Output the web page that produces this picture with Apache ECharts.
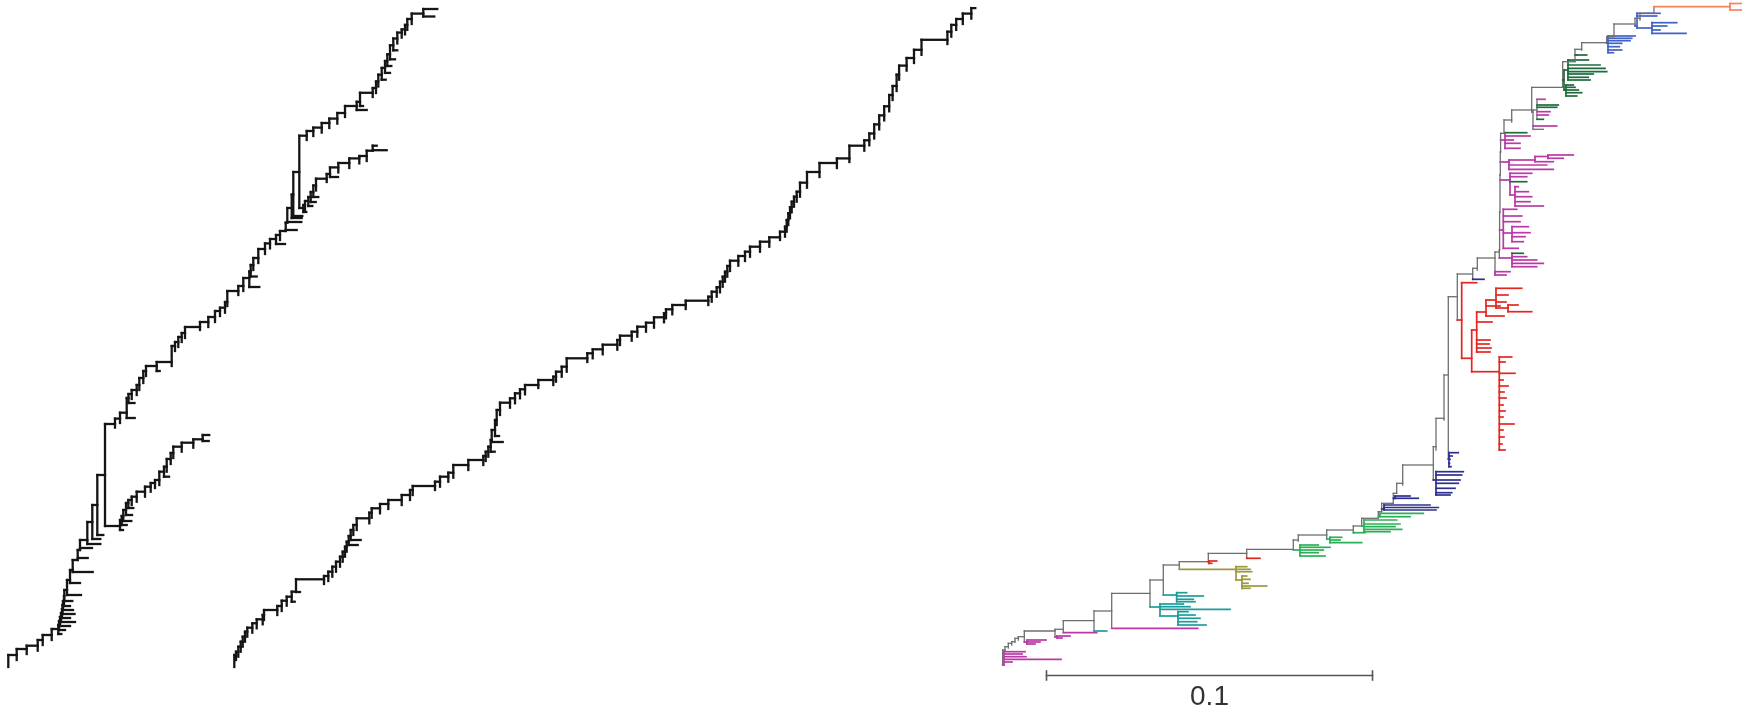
<!DOCTYPE html>
<html><head><meta charset="utf-8">
<script src="https://cdn.jsdelivr.net/npm/echarts@6/dist/echarts.min.js"></script>
<style>html,body{margin:0;padding:0;background:#fff}#c{width:1742px;height:709px}</style>
</head><body><div id="c"></div>
<script>
// ---------- colours ----------
const C_BLACK='#151515', C_GREY='#6e6e6e', C_MAG='#b93aa5', C_TEAL='#1e9c9c', C_OLIVE='#9c9a3c',
      C_RED='#e52620', C_GREEN='#2bb057', C_NAVY='#2d2f8f', C_DGREEN='#1d6a3c', C_BLUE='#4262c8',
      C_ORANGE='#f4845c', C_BAR='#555555';

// ---------- data: ladder trees, node = [x(branch length), yTop(taxon pos), yBottom, leafLength|clade] ----------
const TREE_A_MAIN = [
 [8.3,655,667],[16.7,649],[26.7,645.7],[37.7,640],[42.7,635],[51.7,629],
 [58.3,625,null,3],[59,621,null,6],[60,617,null,10],[61,613,null,14],[62,609,null,8],[62.5,605,null,12],
 [63,601,null,10],[64,596,null,6],[64.3,590,null,8],[67,580,null,14],
 [70,570,583,10],[72.7,560,572,20],[77.7,550,558,10],[80,540,548,12],[87.3,522,544,13],
 [92.3,505,539,8],[97.3,475,535,6],[105,424,526,0],
 [115,418.6,427.6],[120,412.7,423],[126.7,398,418,8],[128.5,394,null,6],[131.7,390],[136.7,385],
 [139.3,378],[143.3,371],[146,366],[156.7,362,371,3],[171.7,346,366],[175,342],[178.3,337],
 [181.7,333],[185,327],[200,322,330],[208.3,317],[215,311],[220,307.7],[225,302],[227.3,291,306],
 [238.3,286,295],[243.3,278],[249.3,271.5,287,10],[250.7,265,null,6],[253.3,258],[258.3,249],
 [265,243.4],[270,239],[276,235,null,9],[280,231],[285.7,222.6,230,11],[287.3,208,222,14],
 [291.7,194.6,218,10],[293.3,172,216,9],[299.3,135.7,208,0],
 [306.7,131,140],[313.3,127.6],[321.7,123],[329.3,118.6],[337.3,113],[345,106,117],
 [356.7,101.8,110,10],[360,92.8,106,3],[372.7,88,97],[376,81.5],[378.3,74.7],[381.7,67.9,null,4],
 [385,61,null,5],[387.3,54.3,null,4],[390,45.3,null,5],[393.3,38.5,null,4],[397.3,32.6],
 [401.7,29.4],[405,24.9],[407.3,19],[411.7,13.6],[423.3,9,16.5,11]
];
const TREE_A_MAIN_TIP = 14;
const TREE_A_SIDE1_START = [105,526];
const TREE_A_SIDE1 = [
 [120,520,530,3],[121.7,516,null,5],[123.3,510,null,8],[126,503,null,6],[128.3,500,null,5],
 [131.7,496.7],[136.7,491.7],[145,486.7],[150.7,483],[155,480],[159.3,471.7],[164,466.7,null,5],
 [166.7,459],[170.7,453],[173.3,446.7],[181.7,442.7],[193.3,439.3],[202.7,435,441,6]
];
const TREE_A_SIDE1_TIP = 6.5;
const TREE_A_SIDE2_START = [299.3,208];
const TREE_A_SIDE2 = [
 [303.3,205,212,3],[305,201],[308.3,197,null,4],[310.7,192,null,5],[313.3,185.5,null,5],[316,178.7],
 [326.7,174,182],[330,167.4,177,8],[338.3,163],[349.3,158.4],[359.3,156],[366.7,150.7],
 [372.7,145.7,150.2,14]
];
const TREE_A_SIDE2_TIP = 4;

const TREE_B = [
 [234.3,655,667],[236,651.7],[238.3,646.7],[240.7,641.7],[242.7,636.7],[245,631.7],[247.3,627.7],
 [252.3,623.3],[256.7,619.3],[262.7,615],[264,610],[277.3,606],[281.7,600.7],[286.7,596.7],
 [291.7,591.7,null,3],[296,579.3,592,4],[324,576,584],[328.3,571.7],[332.3,566.7],[336,561.7],
 [340,556.7],[342.7,551.7],[345,546.7],[346.7,541.7],[348.7,536,545,9],[350.7,530,540,10],
 [353.3,525],[356.7,518.3],[369.3,512.7],[371.7,508.3],[380,504],[388.3,500],[401.7,495],
 [410,490],[412.7,486],[435,481.7,490],[440,476.7],[448.3,472.7],[453.3,465],[468.3,460],
 [483.3,456,465],[485.7,451.7],[488.3,446.7],[490.7,440,null,4],[491.7,430,442,11],[495,420,436,4],
 [496.7,410],[500,402.7],[510,398.3],[515,393.3],[520,389.3],[525,385],[538.3,380,388],
 [553.3,376.7],[556,371.7],[561.7,366.7],[566.7,358.3],[587.3,353.3,362],[592.7,349.3],
 [602.7,344.7],[617.3,340],[620,335.7],[631.7,331.7],[637.3,326.7],[646,322.7],[654,317.3],
 [664,313.3],[666,309.3],[672.3,305],[685.7,300.7,309],[708.3,296.7,305],[711.7,291.7],
 [716.7,287.3],[720,281.7],[722.7,276.7],[725,271.7],[727.3,266],[730,260.7],[738.3,256],
 [745,251.7],[750,246.7],[760,241.7],[769.3,237.3],[780,231.7,240],[785,226.7],[786.7,220],
 [788.3,213.3],[790,207.3],[791.7,201.7],[794,196.7],[796.7,191.7],[800,182.7],[807,172],
 [819.5,163],[836.9,158.4],[849.4,145.7,162],[864.3,140.3],[869.3,133.5],[874.2,124.4],
 [879.2,115.4],[884.2,106.3],[889.2,95],[892.6,86],[896.6,74.7],[899.1,65.6],[906.6,58],
 [914,49.8],[921.5,39.8],[947.4,31.7,44],[951.3,24.9],[956.2,19],[962.8,13.6],[971.3,8.1]
];
const TREE_B_TIP = 4;

// ---------- data: coloured phylogram (backbone + clades) ----------
const TREE_C_SPINE = [
 [1002.7,650,665,'m0'],[1005,646.7,651],[1008.3,643.3,648],[1011.7,641.7,645],[1015,638.3,642],
 [1018.3,636.7,640],[1024.3,631,642,'m1'],[1055,629.3,637,'m2'],[1063.3,620.7,632.7,'m3'],
 [1094,611,631,'t0'],[1111.7,593.3,628.3,'m4'],[1150,580,607,'t1'],[1163.3,565,595,'t2'],
 [1179.3,561.7,569.3,'o0'],[1208.3,553.3,562,'r0'],[1246.7,549.3,558.3,'r1'],
 [1293.3,540,550,'g0'],[1298.3,535,541],[1326.7,530,539,'g1'],[1353.3,526,532.7,'g2'],
 [1361.7,518.3,526,'g3'],[1378.3,511.7,516,'g4'],[1381.7,503.3,509,'nv3'],[1393.3,493.3,498.3,'nv4'],
 [1396.7,483.3,493],[1402.7,465,485],[1433.3,446.7,480,'nv2'],[1436,418.3,450],[1444,375,420],
 [1448.3,296.7,459,'nv1'],[1457.3,274,320,'red'],[1472.7,268.3,279.3,'nv0'],[1477.3,258,270],
 [1495,252,273.3,'m5'],[1499.3,250,258,'m6'],[1499.6,212,230,'m7'],[1500,175,180,'m8'],
 [1500.3,152,162,'m9'],[1500.6,133.3,140,'m10'],[1504,120,133.3],[1511.7,110,122],
 [1531.7,87.3,112,'mx'],[1562.7,61.7,80,'dg0'],[1575,49.3,55,'dg1'],[1581.7,42.7,50],
 [1606.7,36.7,43,'b1'],[1614,24,36.7],[1635,18.3,26,'b0'],[1640,13.3,20],[1654,6.7,6.7,'or']
];
// clade = {x, colour, leaves [y, xEnd, colour?], subclades g:[{x, y(attach), ...}]}
const CL_M0 = {x:1004, c:C_MAG, l:[[651.7,1025],[654,1022],[656.7,1026],[659.3,1061],[662,1012]]};
const CL_M1 = {x:1027, c:C_MAG, l:[[640,1046],[642,1040],[644,1035]]};
const CL_M2 = {x:1057, c:C_MAG, l:[[636,1070],[638,1062]]};
const CL_M3 = {x:1063.3, c:C_MAG, l:[[632.7,1096.7]]};
const CL_T0 = {x:1094, c:C_TEAL, l:[[631,1106.7]]};
const CL_M4 = {x:1111.7, c:C_MAG, l:[[628.3,1197.7]]};
const CL_T1 = {x:1160, c:C_TEAL, l:[[604,1183.3],[606.7,1190],[609.3,1230]],
  g:[{x:1178, y:616, l:[[611.7,1188],[615,1195],[618.3,1200],[621.7,1196.7],[625,1206]]}]};
const CL_T2 = {x:1176.7, c:C_TEAL, l:[[592.7,1186.7],[596,1203.3],[599.3,1193.3],[601.7,1195]]};
const CL_O0 = {x:1236, c:C_OLIVE, l:[[566.7,1246.7],[569.3,1250],[571.7,1251.7]],
  g:[{x:1242, y:580, l:[[576,1246.7],[579.3,1250],[583.3,1248],[586,1266.7],[588.3,1250]]}]};
const CL_R0 = {x:1209, c:C_RED, l:[[561,1216.7],[563.3,1211.7]]};
const CL_R1 = {x:1247, c:C_RED, l:[[558.3,1260]]};
const CL_G0 = {x:1300, c:C_GREEN, l:[[545,1318.3],[547.3,1330],[550,1323.3],[552.7,1318.3],[556,1325]]};
const CL_G1 = {x:1330, c:C_GREEN, l:[[537.3,1341.7],[540,1340],[542.7,1361.7]]};
const CL_G2 = {x:1354, c:C_GREEN, l:[[532.7,1365]]};
const CL_G3 = {x:1364, c:C_GREEN, l:[[520,1396.7],[524,1400],[526.7,1395],[529.3,1401.7],[531.7,1390]]};
const CL_G4 = {x:1380, c:C_GREEN, l:[[513.3,1423.3],[516.7,1410]]};
const CL_NV3 = {x:1384, c:C_NAVY, l:[[505,1430],[507.5,1438.3],[510,1436]]};
const CL_NV4 = {x:1395, c:C_NAVY, l:[[496,1410],[498.3,1418.3]]};
const CL_NV2 = {x:1436, c:C_NAVY, l:[[471.7,1463.3],[475,1461.7],[480,1460],[483.3,1458.3],[488.3,1455],[492.7,1451.7],[495,1450]]};
const CL_NV1 = {x:1449, c:C_NAVY, l:[[452.7,1458.3],[456,1452],[459.3,1450],[463.3,1449.5],[466.7,1451]]};
const CL_RED = {x:1461.7, c:C_RED, l:[[282.7,1476.7]], g:[
  {x:1471.7, y:358.3, l:[], g:[
    {x:1476.7, y:330, l:[[340,1490],[344,1489],[348,1491],[352,1490],[322,1492]], g:[
      {x:1486, y:312, l:[[316,1504],[306,1500]], g:[
        {x:1496, y:300, l:[[288.3,1521.7],[295,1508],[302,1506]], g:[{x:1508, y:308, l:[[305,1518],[311.7,1531.7]]}]}
      ]}
    ]},
    {x:1499.3, y:371.7, l:[[357,1511.7],[362,1505],[373.3,1515],[380,1503],[386,1508],[392,1504],[398,1506],
      [405,1503],[411,1505],[417,1503],[424,1514],[430,1503],[437,1504],[444,1502],[450,1505]]}
  ]}
]};
const CL_NV0 = {x:1473, c:C_NAVY, l:[[279.3,1484]]};
const CL_M5 = {x:1495, c:C_MAG, l:[[271.7,1510],[275,1506]]};
const CL_M6 = {x:1512, c:C_MAG, l:[[253.3,1523.3,C_DGREEN],[256.7,1526.7],[260,1536.7],[263.3,1543.3],[266.7,1536.7]]};
const CL_M7 = {x:1503.3, c:C_MAG, l:[[209.3,1516.7],[216,1521.7],[221.7,1520],[248.3,1518.3]],
  g:[{x:1512, y:233, l:[[226.7,1528.3],[232.7,1530],[236.7,1525],[241.7,1523.3]]}]};
const CL_M8 = {x:1510, c:C_MAG, l:[[173.3,1531.7],[176.7,1526.7],[181.7,1526.7,C_DGREEN]],
  g:[{x:1515, y:195, l:[[186.7,1518.3],[191.7,1528.3],[196.7,1531.7],[201.7,1530],[206,1543.3]]}]};
const CL_M9 = {x:1509, c:C_MAG, l:[[165,1546.7],[169.3,1553.3]],
  g:[{x:1535, y:160, l:[[161.7,1553.3]], g:[{x:1548, y:156.5, l:[[155,1573.3],[158.3,1563.3]]}]}]};
const CL_M10 = {x:1505, c:C_MAG, l:[[132.7,1526.7,C_DGREEN],[136,1530],[140,1513.3],[143.3,1520],[148.3,1520]]};
const CL_MX = {x:1533, c:C_GREY, l:[[126,1556.7,C_MAG],[129.3,1543.3]],
  g:[{x:1537, y:110, l:[[99.3,1545,C_MAG],[105,1558.3,C_DGREEN],[107.3,1556.7,C_DGREEN],[111.7,1550,C_MAG],[115,1548.3,C_MAG],[119.3,1543.3,C_DGREEN]]}]};
const CL_DG0 = {x:1564, c:C_DGREEN, l:[], g:[
  {x:1568, y:70, l:[[60,1588.3],[65,1600],[68.3,1605],[71.7,1606.7],[74,1593.3],[77.3,1588.3],[80,1590]]},
  {x:1566, y:90, l:[[85,1573.3],[87.3,1575],[90,1578.3],[92.7,1581.7],[96,1576.7]]}]};
const CL_DG1 = {x:1577, c:C_DGREEN, l:[[55,1586.7]]};
const CL_B1 = {x:1608, c:C_BLUE, l:[[36,1635],[38.3,1631.7],[40.7,1630],[43.3,1621.7],[46.7,1619.3],[50,1621.7],[52.7,1613.3]]};
const CL_B0 = {x:1637, c:C_BLUE, l:[[13.3,1660],[16,1656.7]],
  g:[{x:1652, y:28, l:[[22.7,1676.7],[26,1666.7],[30,1660],[33.3,1686]]}]};
const CL_OR = {x:1730, c:C_ORANGE, l:[[3.5,1742],[10,1742]]};
const CLADES = {m0:CL_M0,m1:CL_M1,m2:CL_M2,m3:CL_M3,t0:CL_T0,m4:CL_M4,t1:CL_T1,t2:CL_T2,o0:CL_O0,
  r0:CL_R0,r1:CL_R1,g0:CL_G0,g1:CL_G1,g2:CL_G2,g3:CL_G3,g4:CL_G4,nv3:CL_NV3,nv4:CL_NV4,nv2:CL_NV2,
  nv1:CL_NV1,red:CL_RED,nv0:CL_NV0,m5:CL_M5,m6:CL_M6,m7:CL_M7,m8:CL_M8,m9:CL_M9,m10:CL_M10,mx:CL_MX,
  dg0:CL_DG0,dg1:CL_DG1,b1:CL_B1,b0:CL_B0,or:CL_OR};

// scale bar: 0.1 substitutions per site
const SCALE_BAR = [1046.5, 1372.5];
const SCALE_Y = 675.5;
const SCALE_LABEL = '0.1';

// ---------- build segments ----------
const STYLES = [];
const styleIdx = {};
function st(color, w) { const k = color + '|' + w; if (!(k in styleIdx)) { styleIdx[k] = STYLES.length; STYLES.push([color, w]); } return styleIdx[k]; }
const SEGS = [];
function add(x1, y1, x2, y2, s) { SEGS.push([x1, y1, x2, y2, s]); }
function colW(c) { return c === C_GREY ? 1.3 : 1.7; }

function drawClade(cl, px, py, col) {
  const c = cl.c || col;
  const ys = [py];
  cl.l.forEach(l => ys.push(l[0]));
  (cl.g || []).forEach(g => ys.push(g.y));
  if (cl.x > px) add(px, py, cl.x, py, st(c, colW(c)));
  add(cl.x, Math.min(...ys), cl.x, Math.max(...ys), st(c, colW(c)));
  cl.l.forEach(l => { const lc = l[2] || c; add(cl.x, l[0], l[1], l[0], st(lc, colW(lc))); });
  (cl.g || []).forEach(g => drawClade(g, cl.x, g.y, c));
}

function ladder(nodes, s, start, tip) {
  let prev = start ? start[1] : null;
  if (start) add(start[0], prev, nodes[0][0], prev, s);
  nodes.forEach((n, i) => {
    const x = n[0], top = n[1];
    const bot = (n[2] != null) ? n[2] : prev + 5;
    const low = prev == null ? bot : Math.max(bot, prev);
    add(x, low, x, top, s);
    const extra = n[3];
    if (typeof extra === 'string') drawClade(CLADES[extra], x, bot, null);
    else if (extra > 0) add(x, bot, x + extra, bot, s);
    if (i < nodes.length - 1) add(x, top, nodes[i + 1][0], top, s);
    else if (tip) add(x, top, x + tip, top, s);
    prev = top;
  });
}

const S_BLACK = st(C_BLACK, 2.3);
const S_GREY = st(C_GREY, 1.3);
ladder(TREE_A_MAIN, S_BLACK, null, TREE_A_MAIN_TIP);
ladder(TREE_A_SIDE1, S_BLACK, TREE_A_SIDE1_START, TREE_A_SIDE1_TIP);
ladder(TREE_A_SIDE2, S_BLACK, TREE_A_SIDE2_START, TREE_A_SIDE2_TIP);
ladder(TREE_B, S_BLACK, null, TREE_B_TIP);
ladder(TREE_C_SPINE, S_GREY, null, 0);
const S_BAR = st(C_BAR, 1.6);
add(SCALE_BAR[0], SCALE_Y, SCALE_BAR[1], SCALE_Y, S_BAR);
add(SCALE_BAR[0], SCALE_Y - 4.5, SCALE_BAR[0], SCALE_Y + 4.5, S_BAR);
add(SCALE_BAR[1], SCALE_Y - 4.5, SCALE_BAR[1], SCALE_Y + 4.5, S_BAR);

// ---------- chart ----------
const chart = echarts.init(document.getElementById('c'), null, {renderer: 'canvas'});
chart.setOption({
  animation: false,
  backgroundColor: '#ffffff',
  grid: {left: 0, right: 0, top: 0, bottom: 0},
  xAxis: {type: 'value', min: 0, max: 1742, show: false},
  yAxis: {type: 'value', min: 0, max: 709, inverse: true, show: false},
  series: [
    {
      type: 'custom', coordinateSystem: 'cartesian2d', silent: true, progressive: 0,
      data: SEGS, encode: {x: [0, 2], y: [1, 3]},
      renderItem: function (params, api) {
        const d = SEGS[params.dataIndex];
        const p1 = api.coord([d[0], d[1]]), p2 = api.coord([d[2], d[3]]);
        const s = STYLES[d[4]];
        return {type: 'line', shape: {x1: p1[0], y1: p1[1], x2: p2[0], y2: p2[1]},
          style: {stroke: s[0], lineWidth: s[1], lineCap: 'square'}};
      }
    },
    {
      type: 'custom', coordinateSystem: 'cartesian2d', silent: true,
      data: [[(SCALE_BAR[0] + SCALE_BAR[1]) / 2, SCALE_Y + 22]],
      renderItem: function (params, api) {
        const p = api.coord([api.value(0), api.value(1)]);
        return {type: 'text', x: p[0], y: p[1],
          style: {text: SCALE_LABEL, fill: '#333', font: '28px "Liberation Sans", Arial, sans-serif',
            align: 'center', verticalAlign: 'middle'}};
      }
    }
  ]
});
</script></body></html>
